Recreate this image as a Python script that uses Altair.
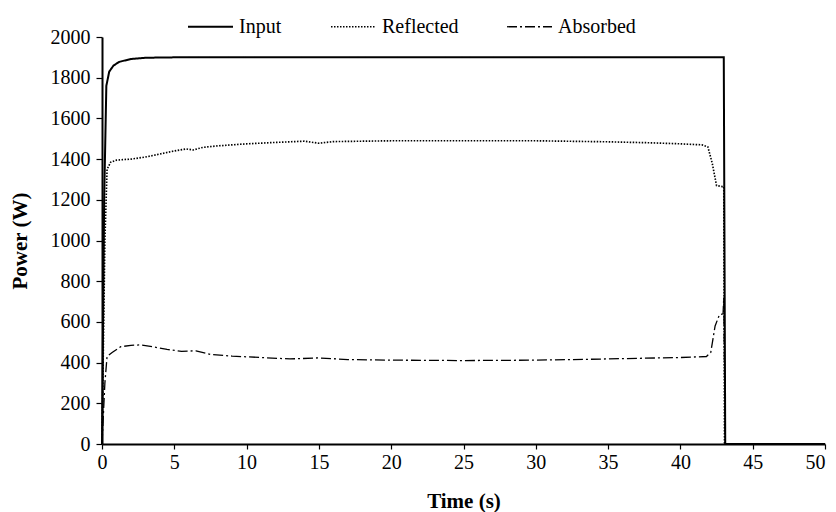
import altair as alt
import pandas as pd

input_t = [0, 0.15, 0.3, 0.5, 0.8, 1.2, 2, 3, 5, 10, 20, 30, 40, 43.0, 43.1, 50]
input_v = [0, 1200, 1760, 1830, 1860, 1878, 1892, 1898, 1900, 1900, 1900, 1900, 1900, 1900, 0, 0]

refl_t = [0, 0.2, 0.35, 0.6, 1, 2, 3, 4, 5, 5.8, 6.3, 7, 8, 10, 12, 14, 15, 16, 18, 20, 25,
          30, 35, 38, 40, 41.5, 41.9, 42.2, 42.5, 42.9, 43.0, 43.05]
refl_v = [0, 1000, 1350, 1385, 1395, 1400, 1410, 1425, 1440, 1450, 1445, 1458, 1465, 1475, 1482,
          1488, 1478, 1486, 1488, 1490, 1490, 1490, 1485, 1480, 1475, 1470, 1460, 1380, 1270, 1265,
          1265, 0]

abs_t = [0, 0.2, 0.35, 0.7, 1.3, 2, 2.7, 3.5, 4.5, 5.5, 6.5, 7.5, 9, 11, 13, 15, 17, 20, 25, 30,
         35, 40, 41.8, 42.1, 42.4, 42.7, 42.95, 43.0, 43.1]
abs_v = [0, 300, 430, 450, 478, 485, 487, 478, 465, 455, 458, 440, 432, 425, 418, 423, 415, 412,
         410, 412, 418, 425, 430, 450, 580, 635, 640, 720, 0]

series = ["Input", "Reflected", "Absorbed"]

rows = []
for name, ts, vs in [("Input", input_t, input_v), ("Reflected", refl_t, refl_v), ("Absorbed", abs_t, abs_v)]:
    for i, (t, v) in enumerate(zip(ts, vs)):
        rows.append({"series": name, "time": t, "power": v, "idx": i})
df = pd.DataFrame(rows)

font = "'Liberation Serif', 'Times New Roman', 'DejaVu Serif', serif"

chart = alt.Chart(df).mark_line(color="black").encode(
    x=alt.X("time:Q", scale=alt.Scale(domain=[0, 50], nice=False),
            axis=alt.Axis(title="Time (s)", values=list(range(0, 51, 5)), grid=False,
                          labelFlush=False, tickSize=5, labelPadding=3, titlePadding=18,
                          labelAlign=alt.condition("datum.value >= 50", alt.value("right"),
                                                   alt.value("center")))),
    y=alt.Y("power:Q", scale=alt.Scale(domain=[0, 2000], nice=False),
            axis=alt.Axis(title="Power (W)", values=list(range(0, 2001, 200)), grid=False,
                          labelFlush=False, format="d", tickSize=6, labelPadding=6,
                          titlePadding=20)),
    strokeDash=alt.StrokeDash("series:N",
        scale=alt.Scale(domain=series, range=[[1, 0], [1.5, 1.5], [10, 3, 2, 3]]),
        sort=series,
        legend=alt.Legend(title=None, orient="none", direction="horizontal",
                          legendX=85, legendY=-34, symbolType="stroke", symbolSize=2025,
                          symbolStrokeColor="black", symbolStrokeWidth=1.6,
                          labelFontSize=20, labelFont=font, labelColor="black",
                          columnPadding=45, labelOffset=5)),
    strokeWidth=alt.StrokeWidth("series:N",
        scale=alt.Scale(domain=series, range=[2.0, 1.3, 1.8]), legend=None),
    detail="series:N",
    order="idx:Q",
).properties(
    width=723, height=407,
    padding={"left": 94, "top": 29, "right": 3, "bottom": 68},
    autosize=alt.AutoSizeParams(type="none"),
).configure_axis(
    labelFont=font, titleFont=font, labelFontSize=20, titleFontSize=21,
    labelColor="black", titleColor="black", domainColor="black", tickColor="black",
    domainWidth=2, tickWidth=1.2, titleFontWeight="bold",
).configure_view(stroke=None)

chart.save("out.html", embed_options={"renderer": "svg", "actions": False})
